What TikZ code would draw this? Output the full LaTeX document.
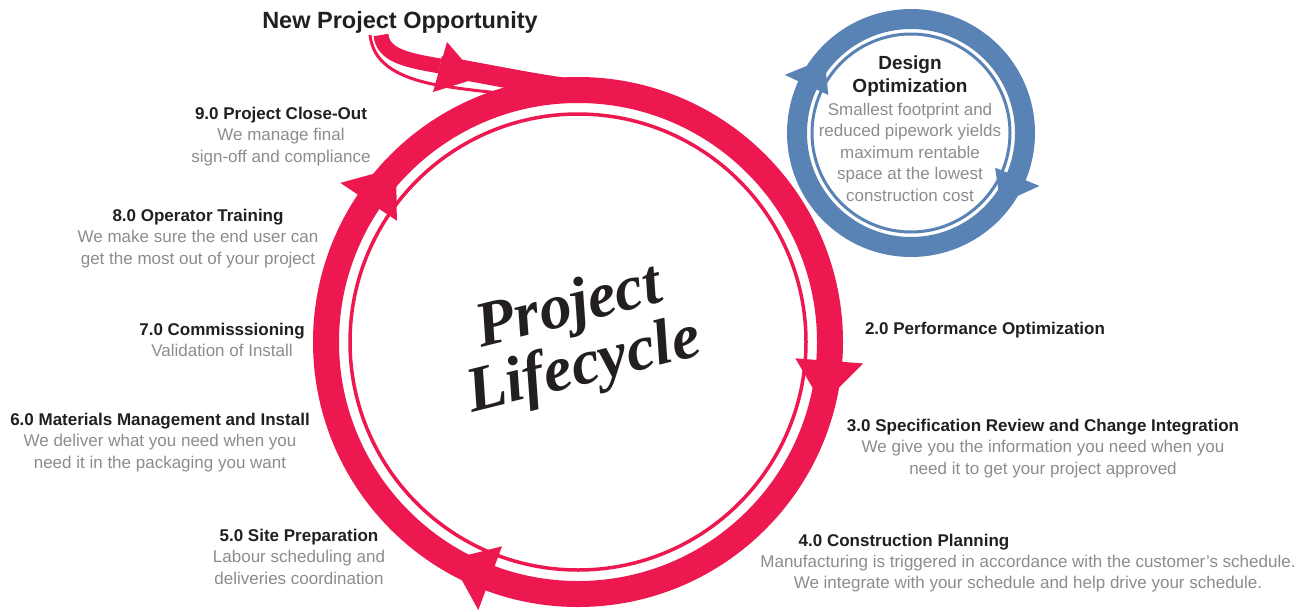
\documentclass[tikz,border=0pt]{standalone}
\usepackage{fontspec}
\setmainfont{Liberation Sans}
\newfontfamily\lifefont{Liberation Serif}
\definecolor{cyclered}{RGB}{237,24,80}
\definecolor{optblue}{RGB}{88,131,180}
\definecolor{ink}{RGB}{35,31,32}
\definecolor{txtgray}{RGB}{140,140,142}
\tikzset{
    band/.style={line width=26pt},
    thinring/.style={line width=3.5pt},
    phase/.style={align=center,anchor=base,inner sep=0pt,text=txtgray,font=\fontsize{17}{21.5}\selectfont},
}
\newcommand\phasetitle[1]{{\color{ink}\bfseries #1}}

\begin{document}
\begin{tikzpicture}[x=1pt,y=-1pt]
    \useasboundingbox(0,0)rectangle(1312,611);
    \coordinate(cyc)at(578,342);
    \coordinate(opt)at(911,133);

    \draw[cyclered,band](cyc)circle[radius=252pt];
    \draw[cyclered,thinring](cyc)circle[radius=228pt];
    \begin{scope}[shift={(cyc)}]
        \foreach \a in {213.8,4.3,110.4}
            \fill[cyclered](\a:218)--(\a:286)--({\a+10}:252)--cycle;
    \end{scope}

    \draw[cyclered,line width=15pt](381,35)..controls(383,55)and(405,60)..(440,66);
    \draw[cyclered,line width=20pt](440,66)..controls(500,76)and(555,89)..(600,91);
    \draw[cyclered,line width=3pt](370,35)..controls(373,62)and(395,76)..(432,84)..controls(470,91)and(510,94)..(548,97);
    \fill[cyclered](447,42)--(433,92)--(478,78)--cycle;

    \draw[optblue,line width=20pt](opt)circle[radius=114pt];
    \draw[optblue,line width=3pt](opt)circle[radius=99pt];
    \begin{scope}[shift={(opt)}]
        \foreach \a in {204.7,22.4}
            \fill[optblue](\a:91)--(\a:139)--({\a+16}:114)--cycle;
    \end{scope}

    \node[rotate=14,align=center,inner sep=0pt,text=ink,font=\lifefont\bfseries\itshape\fontsize{64}{61}\selectfont](lifecycle)at(577,339){Project\\Lifecycle};

    \node[anchor=base,inner sep=0pt,text=ink,font=\fontsize{23.5}{28}\selectfont\bfseries](newproj)at(400,28){New Project Opportunity};

    \node[phase](closeout)at(281,162){\phasetitle{9.0 Project Close-Out}\\We manage final\\sign-off and compliance};
    \node[phase](training)at(198,264){\phasetitle{8.0 Operator Training}\\We make sure the end user can\\get the most out of your project};
    \node[phase](commission)at(222,356.5){\phasetitle{7.0 Commisssioning}\\Validation of Install};
    \node[phase](materials)at(160,468){\phasetitle{6.0 Materials Management and Install}\\We deliver what you need when you\\need it in the packaging you want};
    \node[phase](siteprep)at(299,584){\phasetitle{5.0 Site Preparation}\\Labour scheduling and\\deliveries coordination};
    \node[phase](performance)at(985,334){\phasetitle{2.0 Performance Optimization}};
    \node[phase](specreview)at(1043,474){\phasetitle{3.0 Specification Review and Change Integration}\\We give you the information you need when you\\need it to get your project approved};
    \node[phase](planning)at(904,546){\phasetitle{4.0 Construction Planning}};
    \node[phase](planningtext)at(1028,588.5){Manufacturing is triggered in accordance with the customer’s schedule.\\We integrate with your schedule and help drive your schedule.};

    \node[phase,font=\fontsize{19}{23}\selectfont](designtitle)at(910,92){\phasetitle{Design}\\\phasetitle{Optimization}};
    \node[phase](designtext)at(910,201){Smallest footprint and\\reduced pipework yields\\maximum rentable\\space at the lowest\\construction cost};
\end{tikzpicture}
\end{document}
